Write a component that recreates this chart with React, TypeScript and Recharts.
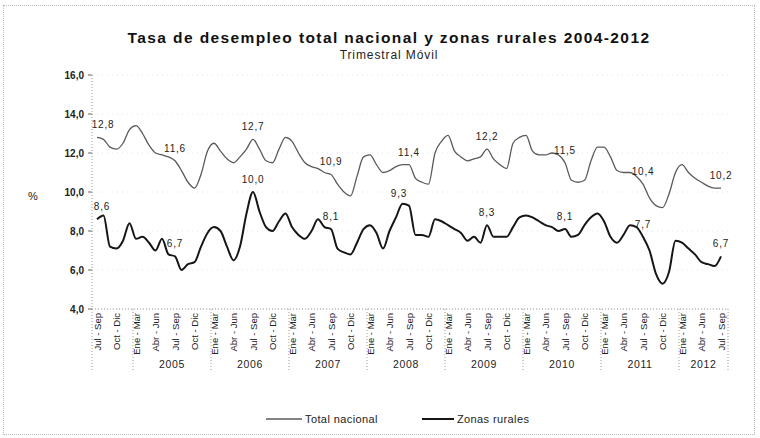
import React from 'react';
import { LineChart, Line, XAxis, YAxis, CartesianGrid, LabelList } from 'recharts';

// trimestre móvil, Jul-Sep 2004 .. Jul-Sep 2012 (one value per month)
const totalNacional = [
  12.8, 12.7, 12.3, 12.2, 12.5, 13.2, 13.4, 13.0, 12.4, 12.0, 11.9, 11.8,
  11.6, 11.1, 10.5, 10.2, 10.9, 12.1, 12.5, 12.1, 11.7, 11.5, 11.8, 12.2,
  12.7, 12.2, 11.6, 11.5, 12.2, 12.8, 12.6, 12.0, 11.5, 11.3, 11.2, 11.0,
  10.9, 10.4, 10.0, 9.8, 10.8, 11.8, 11.9, 11.4, 11.0, 11.1, 11.3, 11.4,
  11.4, 10.7, 10.5, 10.4, 12.0, 12.6, 12.9, 12.1, 11.8, 11.6, 11.7, 11.8,
  12.2, 11.7, 11.4, 11.2, 12.5, 12.8, 12.9, 12.1, 11.9, 11.9, 12.0, 11.9,
  11.5, 10.6, 10.5, 10.6, 11.6, 12.3, 12.3, 11.8, 11.1, 11.0, 11.0, 10.8,
  10.4, 9.7, 9.3, 9.2, 9.9, 11.0, 11.4, 11.0, 10.7, 10.5, 10.3, 10.2,
  10.2,
];

const zonasRurales = [
  8.6, 8.8, 7.2, 7.1, 7.5, 8.4, 7.6, 7.7, 7.4, 7.0, 7.6, 6.8,
  6.7, 6.0, 6.3, 6.4, 7.2, 7.9, 8.2, 8.0, 7.2, 6.5, 7.2, 8.9,
  10.0, 9.0, 8.2, 8.0, 8.5, 8.9, 8.2, 7.8, 7.6, 8.0, 8.6, 8.2,
  8.1, 7.1, 6.9, 6.8, 7.4, 8.1, 8.3, 7.9, 7.1, 8.0, 8.7, 9.4,
  9.3, 7.8, 7.8, 7.7, 8.6, 8.5, 8.3, 8.1, 7.9, 7.5, 7.7, 7.4,
  8.3, 7.7, 7.7, 7.7, 8.2, 8.7, 8.8, 8.7, 8.5, 8.3, 8.2, 8.0,
  8.1, 7.7, 7.8, 8.3, 8.7, 8.9, 8.5, 7.7, 7.4, 7.8, 8.3, 8.2,
  7.7, 7.0, 5.8, 5.3, 5.9, 7.5, 7.4, 7.1, 6.8, 6.4, 6.3, 6.2,
  6.7,
];

const tickLabels = [
  'Jul - Sep', 'Oct - Dic',
  'Ene - Mar', 'Abr - Jun', 'Jul - Sep', 'Oct - Dic',
  'Ene - Mar', 'Abr - Jun', 'Jul - Sep', 'Oct - Dic',
  'Ene - Mar', 'Abr - Jun', 'Jul - Sep', 'Oct - Dic',
  'Ene - Mar', 'Abr - Jun', 'Jul - Sep', 'Oct - Dic',
  'Ene - Mar', 'Abr - Jun', 'Jul - Sep', 'Oct - Dic',
  'Ene - Mar', 'Abr - Jun', 'Jul - Sep', 'Oct - Dic',
  'Ene - Mar', 'Abr - Jun', 'Jul - Sep', 'Oct - Dic',
  'Ene - Mar', 'Abr - Jun', 'Jul - Sep',
];
const years = ['2005', '2006', '2007', '2008', '2009', '2010', '2011', '2012'];
const yTicks = [4, 6, 8, 10, 12, 14, 16];
const labeledMonths = [0, 12, 24, 36, 48, 60, 72, 84, 96];

const data = totalNacional.map((v, i) => ({ m: i, total: v, rural: zonasRurales[i] }));
const xTicks = tickLabels.map((_, i) => i * 3);

const FONT = '"Liberation Sans", Arial, sans-serif';
const AXIS_Y = 309;
const PLOT_LEFT = 92;
const PLOT_RIGHT = 728;
const SEP_DROP = 62;

const fmt = (v: number) => v.toFixed(1).replace('.', ',');

function QuarterTick(props: any) {
  const { x, payload, index } = props;
  const label = tickLabels[index] ?? '';
  const parts: React.ReactNode[] = [];
  parts.push(
    <text key="t" transform={`translate(${x + 3.5},${AXIS_Y + 4}) rotate(-90)`} textAnchor="end"
      fontSize={9.5} fontFamily={FONT} fill="#222">{label}</text>
  );
  if (index === 0) {
    parts.push(<line key="l0" x1={PLOT_LEFT} x2={PLOT_LEFT} y1={AXIS_Y} y2={AXIS_Y + SEP_DROP}
      stroke="#999" strokeDasharray="1 2" />);
  }
  if (index === tickLabels.length - 1) {
    parts.push(<line key="lr" x1={PLOT_RIGHT} x2={PLOT_RIGHT} y1={AXIS_Y} y2={AXIS_Y + SEP_DROP}
      stroke="#999" strokeDasharray="1 2" />);
  }
  if (label === 'Ene - Mar') {
    const sx = x - 3;
    const yi = (payload.value - 6) / 12;
    const half = Math.min(39, (PLOT_RIGHT - sx) / 2);
    parts.push(<line key="s" x1={sx} x2={sx} y1={AXIS_Y} y2={AXIS_Y + SEP_DROP}
      stroke="#999" strokeDasharray="1 2" />);
    parts.push(
      <text key="y" x={sx + half} y={AXIS_Y + 59} textAnchor="middle" fontSize={10.5}
        fontFamily={FONT} fill="#222" letterSpacing={0.6}>{years[yi]}</text>
    );
  }
  return <g>{parts}</g>;
}

const makeLabel = (dxMap: Record<number, number>) => (props: any) => {
  const { x, y, value, index } = props;
  if (!labeledMonths.includes(index)) return null;
  return (
    <text x={x + (dxMap[index] ?? 0)} y={y - 9} textAnchor="middle" fontSize={10}
      fontFamily={FONT} fill="#222" letterSpacing={0.8}>{fmt(value)}</text>
  );
};

export default function App() {
  return (
    <div style={{ position: 'absolute', left: 0, top: 0, width: 760, height: 438, background: '#fff', fontFamily: FONT }}>
      <div style={{ position: 'absolute', left: 3, top: 5, width: 752, height: 430, border: '1px dotted #bbb', boxSizing: 'border-box' }} />
      <div style={{ position: 'absolute', left: 0, top: 29, width: 778, textAlign: 'center', fontSize: 15.5, fontWeight: 'bold', lineHeight: '18px', letterSpacing: 1.4, color: '#111' }}>
        Tasa de desempleo total nacional y zonas rurales 2004-2012
      </div>
      <div style={{ position: 'absolute', left: 0, top: 49, width: 778, textAlign: 'center', fontSize: 12, lineHeight: '13px', letterSpacing: 0.9, color: '#222' }}>
        Trimestral Móvil
      </div>
      <div style={{ position: 'absolute', left: 28, top: 190, fontSize: 11, color: '#222' }}>%</div>
      <div style={{ position: 'absolute', left: 0, top: 0 }}>
        <LineChart width={760} height={438} data={data} margin={{ top: 75, right: 32, bottom: 67, left: 32 }}>
          <CartesianGrid vertical={false} stroke="#e4e4e4" strokeDasharray="1 4" />
          <XAxis dataKey="m" type="number" domain={[0, 96]} ticks={xTicks} interval={0}
            padding={{ left: 5, right: 7 }} height={62} tickLine={false}
            axisLine={{ stroke: '#999', strokeDasharray: '1 2' }} tick={<QuarterTick />} />
          <YAxis type="number" domain={[4, 16]} ticks={yTicks} width={60} tickSize={4} tickMargin={4}
            tickFormatter={fmt} axisLine={{ stroke: '#999', strokeDasharray: '1 2' }}
            tickLine={{ stroke: '#666' }}
            tick={{ fontSize: 10, fontWeight: 'bold', fill: '#222', fontFamily: FONT }} />
          <Line type="monotone" dataKey="total" stroke="#5a5a5a" strokeWidth={1.3} dot={false} isAnimationActive={false}>
            <LabelList dataKey="total" content={makeLabel({ 0: 6 })} />
          </Line>
          <Line type="monotone" dataKey="rural" stroke="#161616" strokeWidth={2} dot={false} isAnimationActive={false}>
            <LabelList dataKey="rural" content={makeLabel({ 0: 5, 48: -10 })} />
          </Line>
        </LineChart>
      </div>
      <div style={{ position: 'absolute', left: 266, top: 413, display: 'flex', alignItems: 'center', fontSize: 11, color: '#222', letterSpacing: 0.4 }}>
        <svg width={36} height={10}><line x1={0} x2={36} y1={5} y2={5} stroke="#5a5a5a" strokeWidth={1.3} /></svg>
        <span style={{ marginLeft: 3 }}>Total nacional</span>
        <svg width={36} height={10} style={{ marginLeft: 44 }}><line x1={0} x2={32} y1={5} y2={5} stroke="#161616" strokeWidth={2} /></svg>
        <span style={{ marginLeft: -1 }}>Zonas rurales</span>
      </div>
    </div>
  );
}
